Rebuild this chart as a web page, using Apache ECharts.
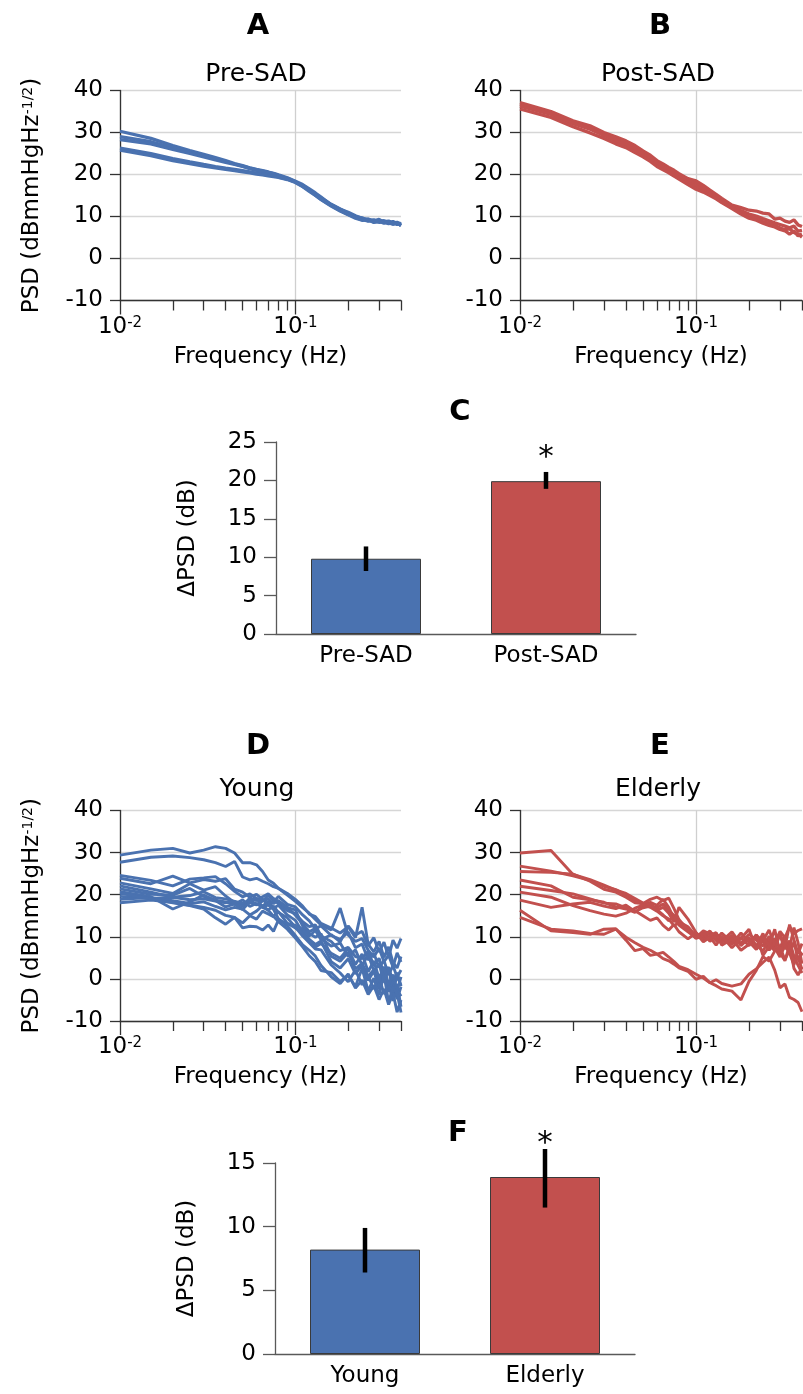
<!DOCTYPE html>
<html><head><meta charset="utf-8">
<script src="https://cdn.jsdelivr.net/npm/echarts@6/dist/echarts.min.js"></script>
<style>html,body{margin:0;padding:0;background:#fff}#c{width:803px;height:1394px}</style>
</head><body><div id="c"></div>
<script>
// ---------- DATA ----------
const freqHz = [0.01, 0.015, 0.02, 0.025, 0.03, 0.035, 0.04, 0.045, 0.05, 0.055, 0.06, 0.065, 0.07, 0.075, 0.08, 0.09, 0.1, 0.11, 0.12, 0.13, 0.14, 0.16, 0.18, 0.2, 0.22, 0.24, 0.26, 0.28, 0.3, 0.32, 0.34, 0.36, 0.38, 0.4];
const majorTicksHz = [0.01, 0.1];
const minorTicksHz = [0.02, 0.03, 0.04, 0.05, 0.06, 0.07, 0.08, 0.09, 0.2, 0.3, 0.4];

const preSadCurves = [
  [30.3, 28.6, 26.9, 25.7, 24.8, 24.0, 23.3, 22.6, 22.1, 21.6, 21.2, 20.9, 20.6, 20.3, 19.9, 19.2, 18.4, 17.6, 16.6, 15.6, 14.6, 12.8, 11.7, 11.0, 10.2, 9.5, 9.3, 9.0, 9.1, 8.8, 8.9, 8.5, 8.6, 8.2],
  [29.0, 27.8, 26.4, 25.3, 24.5, 23.8, 23.1, 22.5, 22.0, 21.5, 21.1, 20.8, 20.5, 20.2, 19.8, 19.1, 18.3, 17.4, 16.4, 15.3, 14.4, 12.9, 11.8, 10.8, 10.0, 9.7, 9.0, 8.9, 9.3, 8.6, 8.4, 8.8, 8.3, 8.0],
  [28.3, 27.3, 26.0, 25.0, 24.2, 23.5, 22.9, 22.4, 21.9, 21.4, 21.0, 20.7, 20.4, 20.1, 19.7, 19.0, 18.2, 17.2, 16.2, 15.1, 14.1, 12.6, 11.4, 10.5, 9.8, 9.2, 9.4, 8.7, 8.7, 9.0, 8.5, 8.2, 8.4, 7.9],
  [26.3, 25.0, 23.8, 23.0, 22.4, 21.9, 21.5, 21.2, 20.9, 20.6, 20.3, 20.1, 19.9, 19.7, 19.4, 18.9, 18.2, 17.3, 16.3, 15.2, 14.3, 12.7, 11.6, 10.7, 9.9, 9.3, 8.9, 9.2, 8.6, 8.8, 8.3, 8.6, 8.1, 8.4],
  [25.8, 24.5, 23.3, 22.6, 22.0, 21.6, 21.2, 20.9, 20.6, 20.4, 20.1, 19.9, 19.7, 19.5, 19.3, 18.8, 18.1, 17.1, 16.0, 15.0, 14.0, 12.5, 11.3, 10.4, 9.6, 9.1, 9.2, 8.6, 8.9, 8.4, 8.7, 8.2, 8.5, 7.8]
];
const postSadCurves = [
  [37.1, 35.0, 32.8, 31.6, 30.0, 29.0, 28.0, 26.9, 25.6, 24.6, 23.3, 22.5, 21.7, 21.0, 20.2, 19.0, 18.5, 17.4, 16.3, 15.3, 14.3, 12.7, 12.1, 11.5, 11.3, 10.8, 10.6, 9.4, 9.6, 8.9, 8.6, 9.2, 8.0, 7.6],
  [36.7, 34.6, 32.4, 31.1, 29.6, 28.5, 27.5, 26.3, 25.2, 24.1, 22.9, 22.0, 21.3, 20.6, 19.8, 18.5, 17.9, 16.8, 15.8, 14.8, 13.9, 12.3, 11.4, 10.6, 10.1, 9.5, 9.0, 8.5, 8.1, 7.7, 7.3, 7.7, 6.5, 6.7],
  [36.3, 34.3, 32.1, 30.8, 29.3, 28.0, 27.0, 25.9, 24.8, 23.8, 22.5, 21.6, 20.9, 20.1, 19.3, 18.0, 17.2, 16.3, 15.4, 14.4, 13.5, 12.1, 11.0, 10.0, 9.6, 8.8, 8.4, 7.9, 7.3, 6.8, 7.1, 6.2, 5.8, 5.1],
  [35.6, 33.6, 31.4, 29.9, 28.6, 27.3, 26.4, 25.2, 24.2, 23.1, 21.9, 21.1, 20.4, 19.6, 18.9, 17.6, 16.5, 15.8, 15.0, 14.2, 13.3, 11.9, 10.6, 9.6, 9.1, 8.4, 7.9, 7.5, 6.9, 6.6, 5.8, 6.5, 5.4, 5.8]
];
const youngCurves = [
  [29.4, 30.6, 31.0, 29.9, 30.6, 31.4, 31.0, 29.9, 27.6, 27.6, 27.1, 25.5, 23.5, 22.7, 21.5, 19.9, 18.4, 16.9, 15.6, 14.1, 12.8, 11.6, 16.8, 10.4, 8.9, 9.6, 6.8, 5.2, 7.3, 4.1, 5.6, 2.8, 6.2, 4.0],
  [27.7, 28.9, 29.2, 28.8, 28.3, 27.6, 26.7, 27.9, 24.2, 23.5, 23.9, 23.2, 22.6, 21.9, 21.5, 20.3, 18.9, 17.3, 15.4, 14.8, 13.2, 12.1, 10.9, 12.4, 9.8, 17.0, 8.2, 6.4, 8.9, 5.1, 7.6, 3.9, 2.6, 5.3],
  [24.6, 23.4, 22.1, 23.7, 24.0, 24.3, 22.6, 20.8, 19.5, 20.2, 19.1, 18.5, 19.8, 18.7, 17.9, 16.2, 15.5, 13.6, 12.4, 12.8, 10.2, 8.9, 6.7, 7.5, 5.3, 4.8, 6.6, 3.1, 4.9, 1.2, 2.8, -0.6, 1.5, -1.8],
  [23.9, 22.6, 24.4, 22.8, 23.6, 23.2, 23.8, 21.3, 20.6, 19.4, 20.1, 18.9, 17.5, 18.3, 19.6, 17.7, 17.1, 15.2, 13.8, 11.9, 12.6, 10.3, 9.4, 11.1, 7.4, 8.3, 4.5, 6.1, 2.7, 4.4, 0.9, 3.2, 0.4, 2.1],
  [22.8, 21.4, 20.3, 22.6, 21.1, 21.9, 19.7, 18.1, 17.4, 19.2, 18.6, 19.5, 20.2, 19.1, 18.4, 17.0, 15.1, 13.1, 11.2, 12.0, 9.6, 7.8, 8.5, 5.3, 6.9, 3.2, 5.8, 1.9, 3.6, -0.8, 2.5, -2.9, 0.7, -1.5],
  [22.1, 20.6, 19.4, 19.8, 20.7, 19.3, 19.0, 18.4, 17.2, 18.1, 17.6, 18.5, 19.0, 17.9, 18.6, 16.9, 16.4, 12.5, 10.8, 9.9, 10.7, 5.4, 4.2, 6.3, 2.4, 3.7, 0.6, 2.2, -1.3, 1.6, -3.1, 0.3, -4.8, -1.9],
  [21.4, 20.1, 19.9, 21.5, 19.6, 18.7, 18.3, 17.7, 18.8, 17.2, 17.9, 17.3, 18.4, 16.8, 17.5, 15.2, 13.9, 11.1, 9.4, 8.2, 9.0, 4.1, 2.6, 4.8, 1.2, 3.3, -0.4, 1.9, -2.3, 0.4, -1.6, -4.0, -1.2, -6.6],
  [20.7, 19.5, 16.6, 18.3, 19.9, 18.6, 17.1, 17.8, 16.5, 18.3, 19.2, 17.0, 16.4, 17.3, 15.8, 14.5, 12.3, 10.2, 8.6, 7.1, 6.9, 3.3, 1.4, -0.7, 2.1, -1.4, 0.8, -2.4, 0.5, -3.6, -1.0, -5.2, -2.5, -4.1],
  [19.6, 19.1, 19.4, 18.8, 19.0, 18.5, 18.1, 18.4, 18.0, 18.6, 17.8, 17.1, 17.6, 16.5, 14.3, 12.6, 10.3, 8.1, 6.8, 5.4, 3.2, 0.5, -1.1, 1.2, -2.2, -0.3, -3.7, -1.6, -4.9, -2.4, -6.1, -3.3, -7.9, -5.0],
  [18.9, 19.3, 18.6, 17.9, 18.3, 17.2, 16.4, 17.0, 16.6, 15.2, 16.1, 17.4, 16.3, 14.9, 13.6, 11.8, 9.7, 7.6, 5.5, 4.1, 2.0, 1.5, -0.6, 0.8, -1.8, 2.5, -2.9, 0.2, -3.8, 1.1, -5.6, -1.9, -3.4, -8.0],
  [18.1, 18.7, 18.2, 17.5, 17.0, 16.3, 15.1, 14.6, 13.3, 15.0, 14.2, 16.1, 15.4, 14.8, 16.0, 13.2, 12.1, 10.9, 9.0, 7.6, 8.4, 6.1, 4.9, 7.2, 3.4, 5.9, 1.7, 4.3, 0.1, 2.9, -1.4, 1.0, -2.8, 0.5],
  [20.3, 19.0, 18.1, 17.4, 16.6, 14.5, 13.0, 14.6, 12.1, 12.5, 12.4, 11.6, 12.8, 11.3, 14.0, 13.1, 12.7, 11.8, 10.2, 11.5, 9.3, 10.5, 8.8, 12.6, 10.4, 11.3, 7.9, 9.8, 6.4, 8.7, 5.1, 9.2, 7.3, 9.6]
];
const elderlyCurves = [
  [29.9, 30.5, 24.8, 23.6, 22.3, 21.1, 20.3, 19.1, 18.0, 17.4, 16.9, 17.8, 16.2, 15.1, 13.6, 12.4, 10.2, 10.9, 9.6, 10.8, 9.3, 9.9, 8.4, 10.6, 9.2, 7.8, 10.1, 8.6, 11.3, 9.8, 12.4, 10.7, 11.5, 11.9],
  [26.8, 25.6, 24.5, 23.4, 22.0, 21.2, 19.9, 18.6, 17.7, 18.2, 17.5, 18.9, 17.0, 14.3, 12.8, 11.2, 9.8, 11.4, 10.7, 9.2, 10.9, 8.7, 9.8, 7.9, 10.4, 8.9, 6.8, 9.6, 7.3, 10.2, 5.9, 8.8, 4.6, 6.3],
  [25.5, 25.3, 24.9, 23.2, 21.3, 20.6, 19.4, 18.1, 17.9, 18.9, 19.4, 18.6, 19.2, 16.7, 14.1, 11.6, 10.4, 9.7, 11.1, 10.2, 9.0, 11.2, 8.2, 9.5, 7.6, 10.8, 6.9, 8.4, 10.3, 7.1, 9.1, 5.4, 3.2, 1.4],
  [23.5, 22.1, 19.4, 18.8, 18.2, 17.1, 16.6, 15.8, 17.2, 17.9, 16.4, 15.2, 13.8, 14.9, 13.1, 11.5, 9.6, 10.2, 11.4, 9.1, 8.6, 10.4, 7.9, 9.7, 8.1, 6.6, 9.3, 7.4, 5.2, 8.0, 6.1, 3.3, 7.2, 5.5],
  [20.6, 19.4, 17.4, 16.2, 15.4, 14.9, 15.6, 16.8, 17.5, 17.0, 16.1, 15.0, 14.2, 12.6, 13.5, 11.9, 9.8, 10.8, 8.9, 10.5, 9.7, 8.3, 10.9, 8.8, 7.0, 9.1, 11.6, 8.0, 6.2, 9.0, 7.4, 12.2, 8.6, 3.6],
  [18.7, 17.0, 17.8, 18.2, 17.3, 16.7, 17.5, 16.0, 16.9, 17.3, 16.3, 17.0, 15.6, 13.5, 17.0, 14.2, 11.0, 9.1, 10.3, 11.0, 8.0, 9.5, 6.8, 8.2, 10.5, 5.6, 7.7, 11.8, 6.2, 4.3, 8.1, 2.5, 0.9, 2.8],
  [22.0, 21.0, 20.2, 19.0, 18.0, 17.8, 16.9, 16.2, 15.0, 13.9, 14.5, 12.7, 11.6, 12.9, 11.2, 9.5, 10.9, 8.8, 9.9, 8.0, 10.2, 7.4, 9.6, 11.8, 7.1, 9.9, 8.0, 6.7, 10.8, 7.5, 12.9, 9.3, 6.0, 8.4],
  [16.3, 11.4, 11.0, 10.6, 11.8, 11.9, 9.2, 6.7, 7.2, 5.6, 5.9, 4.8, 4.3, 3.5, 2.6, 1.8, -0.1, 0.6, -0.9, -0.2, -1.1, -1.7, -1.2, 1.1, 2.4, 3.9, 5.2, 2.1, -2.1, -1.2, -4.4, -4.9, -5.6, -7.8],
  [14.6, 11.8, 11.4, 10.8, 10.6, 11.8, 9.9, 8.6, 7.5, 6.8, 5.9, 6.3, 5.2, 4.1, 3.0, 2.2, 1.1, 0.2, -0.9, -1.6, -2.4, -2.9, -5.0, -0.6, 2.0, 5.3, 4.2, 6.6, 7.5, 4.6, 6.9, 3.8, 5.1, 2.3]
];

const sadGroups = ['Pre-SAD', 'Post-SAD'];
const sadDeltaPsd = [9.8, 19.9];
const sadErrLow = [8.2, 18.9];
const sadErrHigh = [11.4, 21.1];
const sadSignif = ['', '*'];

const ageGroups = ['Young', 'Elderly'];
const ageDeltaPsd = [8.2, 13.9];
const ageErrLow = [6.4, 11.5];
const ageErrHigh = [9.9, 16.1];
const ageSignif = ['', '*'];

// ---------- STYLE / BUILD ----------
const FONT = 'DejaVu Sans';
const BLUE = '#4a72b0', RED = '#c2504e';
const AXC = '#333';
const TICKFS = 23;
const grids = [], xAxes = [], yAxes = [], series = [];
const lg = v => Math.log10(v);
const XMIN = lg(0.01), XMAX = lg(0.4);

function addSpectrum(o) {
  const gi = grids.length;
  grids.push({left: o.left, top: o.top, width: o.width, height: o.height});
  const xi = xAxes.length;
  xAxes.push({
    type: 'value', gridIndex: gi, min: XMIN, max: XMAX, position: 'bottom',
    axisLine: {show: true, onZero: false, lineStyle: {color: AXC, width: 1.3}},
    axisTick: {show: true, customValues: majorTicksHz.map(lg), length: 14, lineStyle: {color: AXC, width: 1.3}},
    axisLabel: {customValues: majorTicksHz.map(lg), margin: 15,
      formatter: v => '{b|10}{s|' + Math.round(v) + '}',
      rich: {b: {fontFamily: FONT, fontSize: TICKFS, color: '#000'},
             s: {fontFamily: FONT, fontSize: 15, color: '#000', verticalAlign: 'top'}}},
    splitLine: {show: true, lineStyle: {color: '#cfcfcf', width: 1.3}},
    name: 'Frequency (Hz)', nameLocation: 'middle', nameGap: 45,
    nameTextStyle: {fontFamily: FONT, fontSize: 23, color: '#000'}
  });
  xAxes.push({
    type: 'value', gridIndex: gi, min: XMIN, max: XMAX, position: 'bottom',
    axisLine: {show: false, onZero: false},
    axisTick: {show: true, customValues: minorTicksHz.map(lg), length: 10, lineStyle: {color: AXC, width: 1.3}},
    axisLabel: {show: false}, splitLine: {show: false}
  });
  const y = {
    type: 'value', gridIndex: gi, min: -10, max: 40, interval: 10,
    axisLine: {show: true, onZero: false, lineStyle: {color: AXC, width: 1.3}},
    axisTick: {show: true, length: 10, lineStyle: {color: AXC, width: 1.3}},
    axisLabel: {margin: 17, fontFamily: FONT, fontSize: TICKFS, color: '#000', padding: [6, 0, 0, 0]},
    splitLine: {show: true, lineStyle: {color: '#d6d6d6', width: 1.3}}
  };
  if (o.yName) {
    Object.assign(y, {
      name: '{n|PSD (dBmmHgHz}{s|-1/2}{n|)}', nameLocation: 'middle', nameRotate: 90, nameGap: 76,
      nameTextStyle: {rich: {n: {fontFamily: FONT, fontSize: 23, color: '#000'},
                             s: {fontFamily: FONT, fontSize: 14, color: '#000', verticalAlign: 'top'}}}
    });
  }
  yAxes.push(y);
  o.curves.forEach(c => series.push({
    type: 'line', xAxisIndex: xi, yAxisIndex: gi, silent: true,
    data: freqHz.map((f, i) => [lg(f), c[i]]),
    showSymbol: false, symbol: 'none',
    lineStyle: {color: o.color, width: o.lw}
  }));
}

function addBars(o) {
  const gi = grids.length;
  grids.push({left: o.left, top: o.top, width: o.width, height: o.height});
  const xi = xAxes.length;
  xAxes.push({
    type: 'category', gridIndex: gi, data: o.cats, position: 'bottom',
    axisLine: {show: true, onZero: false, lineStyle: {color: '#595959', width: 1.3}},
    axisTick: {show: false},
    axisLabel: {margin: 11, fontFamily: FONT, fontSize: TICKFS, color: '#000'}
  });
  yAxes.push({
    type: 'value', gridIndex: gi, min: 0, max: o.max, interval: 5,
    axisLine: {show: true, onZero: false, lineStyle: {color: '#595959', width: 1.3}},
    axisTick: {show: true, length: 12, lineStyle: {color: '#595959', width: 1.3}},
    axisLabel: {margin: 19, fontFamily: FONT, fontSize: TICKFS, color: '#000'},
    splitLine: {show: false},
    name: 'ΔPSD (dB)', nameLocation: 'middle', nameRotate: 90, nameGap: 76,
    nameTextStyle: {fontFamily: FONT, fontSize: 23, color: '#000'}
  });
  series.push({
    type: 'bar', xAxisIndex: xi, yAxisIndex: gi, barWidth: 110, silent: true,
    data: o.vals.map((v, i) => ({value: v, itemStyle: {color: [BLUE, RED][i]}})),
    itemStyle: {borderColor: '#3a3a3a', borderWidth: 1}
  });
  series.push({
    type: 'custom', xAxisIndex: xi, yAxisIndex: gi, clip: false, silent: true, z: 5,
    data: o.cats.map((c, i) => [i, o.lo[i], o.hi[i]]),
    renderItem: (params, api) => {
      const i = api.value(0);
      const lo = api.coord([i, api.value(1)]);
      const hi = api.coord([i, api.value(2)]);
      const ch = [{type: 'line', shape: {x1: lo[0], y1: lo[1], x2: hi[0], y2: hi[1]},
                   style: {stroke: '#000', lineWidth: 4.5}}];
      const s = o.sig[params.dataIndex];
      if (s) ch.push({type: 'text', x: hi[0], y: hi[1] - o.starGap,
        style: {text: s, fontFamily: FONT, fontSize: 31, fill: '#000', align: 'center', verticalAlign: 'middle'}});
      return {type: 'group', children: ch};
    }
  });
}

addSpectrum({left: 120, top: 90.5, width: 281, height: 210, curves: preSadCurves, color: BLUE, lw: 3.3, yName: true});
addSpectrum({left: 520, top: 90.5, width: 282, height: 210, curves: postSadCurves, color: RED, lw: 3.3});
addBars({left: 276, top: 442, width: 360, height: 192, cats: sadGroups, vals: sadDeltaPsd, lo: sadErrLow, hi: sadErrHigh, sig: sadSignif, max: 25, starGap: 14});
addSpectrum({left: 120, top: 810.5, width: 281, height: 210.5, curves: youngCurves, color: BLUE, lw: 2.9, yName: true});
addSpectrum({left: 520, top: 810.5, width: 282, height: 210.5, curves: elderlyCurves, color: RED, lw: 2.9});
addBars({left: 275, top: 1163, width: 360, height: 191, cats: ageGroups, vals: ageDeltaPsd, lo: ageErrLow, hi: ageErrHigh, sig: ageSignif, max: 15, starGap: 5});

const titleSpecs = [
  {text: 'A', x: 258, y: 26, size: 29, bold: true},
  {text: 'Pre-SAD', x: 256, y: 74, size: 25},
  {text: 'B', x: 660, y: 26, size: 29, bold: true},
  {text: 'Post-SAD', x: 658, y: 74, size: 25},
  {text: 'C', x: 460, y: 412, size: 29, bold: true},
  {text: 'D', x: 258, y: 746, size: 29, bold: true},
  {text: 'Young', x: 257, y: 789, size: 25},
  {text: 'E', x: 660, y: 746, size: 29, bold: true},
  {text: 'Elderly', x: 658, y: 789, size: 25},
  {text: 'F', x: 458, y: 1133, size: 29, bold: true}
];

const chart = echarts.init(document.getElementById('c'), null, {renderer: 'canvas'});
chart.setOption({
  animation: false,
  backgroundColor: '#fff',
  grid: grids, xAxis: xAxes, yAxis: yAxes, series: series,
  graphic: titleSpecs.map(t => ({
    type: 'text', x: t.x, y: t.y, silent: true,
    style: {text: t.text, fontFamily: FONT, fontSize: t.size, fontWeight: t.bold ? 'bold' : 'normal',
            fill: '#000', align: 'center', verticalAlign: 'middle'}
  }))
});
</script></body></html>
